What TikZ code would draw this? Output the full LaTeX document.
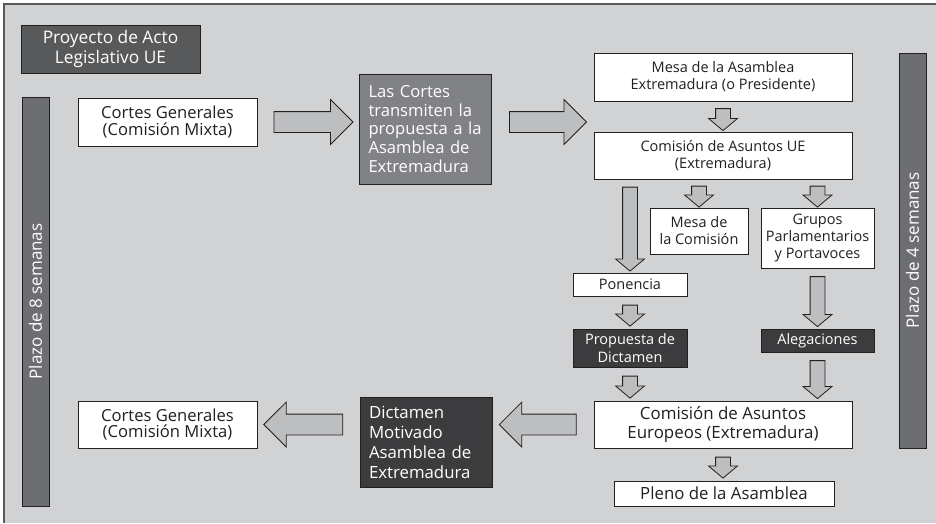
\documentclass[tikz,border=0pt]{standalone}
\usepackage{fontspec}
\setmainfont{Open Sans}
\usetikzlibrary{calc,shapes.arrows}

\definecolor{bggray}{HTML}{D1D2D4}
\definecolor{framegray}{HTML}{58595B}
\definecolor{bargray}{HTML}{6D6E71}
\definecolor{midgray}{HTML}{808285}
\definecolor{darkgray}{HTML}{3C3C3E}
\definecolor{arrowgray}{HTML}{BCBEC0}
\definecolor{ink}{HTML}{231F20}

\tikzset{
  box/.style={draw=ink, line width=0.9pt, inner sep=0pt, align=center,
    font=\fontsize{14.5}{17}\selectfont},
  whitebox/.style={box, fill=white, text=ink},
  darkbox/.style={box, fill=darkgray, text=white},
  leftbox/.style={box, text=white, align=left, inner xsep=9pt,
    font=\fontsize{16.6}{18.7}\selectfont},
  barbox/.style={box, fill=bargray, text=white, rotate=90, minimum height=27pt,
    font=\fontsize{17}{20}\selectfont},
  bigarrow/.style={single arrow, draw=ink, fill=arrowgray, line width=0.8pt,
    inner sep=10pt, single arrow head extend=12pt, single arrow tip angle=90,
    minimum height=79pt},
  downarrow/.style={single arrow, draw=ink, fill=arrowgray, line width=0.8pt,
    inner sep=7pt, single arrow head extend=7pt, single arrow tip angle=100,
    rotate=-90}
}

\begin{document}
\begin{tikzpicture}[x=1pt,y=-1pt]
\useasboundingbox (0,0) rectangle (936,523);
\fill[bggray] (4,4) rectangle (936,523);
\draw[framegray, line width=2pt] (4,523) -- (4,4) -- (936,4);

% title and time bars
\node[box, fill=framegray, text=white, minimum width=179pt, minimum height=48pt,
  font=\fontsize{17.3}{20}\selectfont] (proy) at (110.5,49) {Proyecto de Acto\\Legislativo UE};
\node[barbox, minimum width=409pt] (plazo8) at (35.5,301.5) {Plazo de 8 semanas};
\node[barbox, minimum width=395pt] (plazo4) at (912.5,250.5) {Plazo de 4 semanas};

% upper row
\node[whitebox, minimum width=179pt, minimum height=48pt,
  font=\fontsize{16.6}{16.4}\selectfont] (cortes1) at (167.5,122) {Cortes Generales\\(Comisión Mixta)};
\node[leftbox, fill=midgray, text width=114pt, minimum height=110pt] (transmiten) at (425.5,129)
  {Las Cortes\\transmiten la\\propuesta a la\\Asamblea de\\Extremadura};
\node[whitebox, minimum width=258pt, minimum height=48pt] (mesa) at (723,77) {Mesa de la Asamblea\\Extremadura (o Presidente)};
\node[whitebox, minimum width=258pt, minimum height=47pt] (cue) at (723,155.5) {Comisión de Asuntos UE\\(Extremadura)};

% middle
\node[whitebox, minimum width=98pt, minimum height=46pt] (mesacom) at (699,231) {Mesa de\\la Comisión};
\node[whitebox, minimum width=113pt, minimum height=60pt] (grupos) at (817.5,238) {Grupos\\Parlamentarios\\y Portavoces};
\node[whitebox, minimum width=114pt, minimum height=23pt] (ponencia) at (630,284.5) {Ponencia};
\node[darkbox, minimum width=114pt, minimum height=38pt,
  font=\fontsize{14.5}{18.3}\selectfont] (propuesta) at (630,348) {Propuesta de\\Dictamen};
\node[darkbox, minimum width=113pt, minimum height=23pt] (alegaciones) at (817.5,340.5) {Alegaciones};

% lower row
\node[whitebox, minimum width=258pt, minimum height=47pt,
  font=\fontsize{16.9}{19.3}\selectfont] (cae) at (723,424.5) {Comisión de Asuntos\\Europeos (Extremadura)};
\node[whitebox, minimum width=220pt, minimum height=25pt,
  font=\fontsize{16.8}{20}\selectfont] (pleno) at (724,493.5) {Pleno de la Asamblea};
\node[leftbox, fill=darkgray, text width=114pt, minimum height=90pt,
  font=\fontsize{16.8}{20}\selectfont] (dictamen) at (426,442)
  {Dictamen\\Motivado\\Asamblea de\\Extremadura};
\node[whitebox, minimum width=179pt, minimum height=47pt,
  font=\fontsize{16.6}{16.4}\selectfont] (cortes2) at (167.5,424.5) {Cortes Generales\\(Comisión Mixta)};

% block arrows
\node[bigarrow] (a1) at ($(cortes1.east)!0.5!(transmiten.west |- cortes1.east)$) {};
\node[bigarrow, minimum height=77pt] (a2) at ($(transmiten.east |- cortes1.east)!0.5!(cue.west |- cortes1.east)$) {};
\node[bigarrow, rotate=180, minimum height=77pt] (a3) at ($(cae.west)!0.5!(dictamen.east |- cae.west)$) {};
\node[bigarrow, rotate=180] (a4) at ($(dictamen.west |- cortes2.east)!0.5!(cortes2.east)$) {};

\node[downarrow, minimum height=22pt] (d1) at ($(mesa.south)!0.5!(cue.north)$) {};
\node[downarrow, minimum height=84pt] (d2) at ($(cue.south -| ponencia.north)!0.5!(ponencia.north)$) {};
\node[downarrow, minimum height=20pt] (d3) at ($(cue.south -| mesacom.north)!0.5!(mesacom.north)$) {};
\node[downarrow, minimum height=20pt] (d4) at ($(cue.south -| grupos.north)!0.5!(grupos.north)$) {};
\node[downarrow, minimum height=21pt] (d5) at ($(ponencia.south)!0.5!(propuesta.north)$) {};
\node[downarrow, minimum height=22pt] (d6) at ($(propuesta.south)!0.5!(propuesta.south |- cae.north)$) {};
\node[downarrow, minimum height=50pt] (d7) at ($(grupos.south)!0.5!(alegaciones.north)$) {};
\node[downarrow, minimum height=38pt] (d8) at ($(alegaciones.south)!0.5!(alegaciones.south |- cae.north)$) {};
\node[downarrow, minimum height=21pt] (d9) at ($(cae.south)!0.5!(cae.south |- pleno.north)$) {};

\end{tikzpicture}
\end{document}
